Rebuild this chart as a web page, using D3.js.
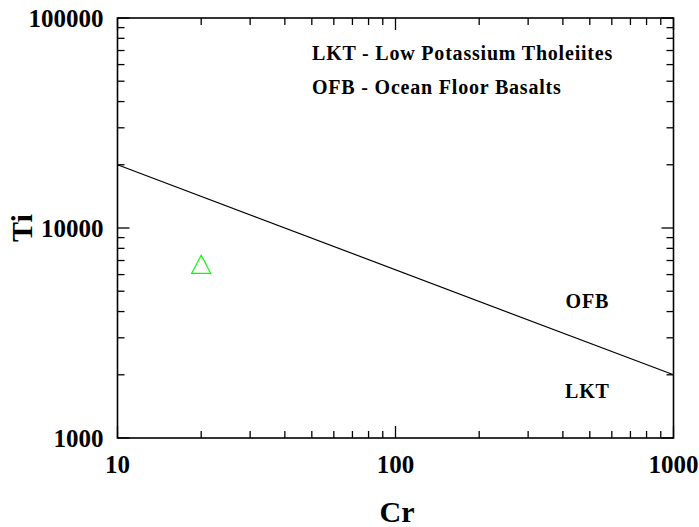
<!DOCTYPE html>
<html>
<head>
<meta charset="utf-8">
<script src="https://cdn.jsdelivr.net/npm/d3@7"></script>
<style>
  html, body { margin: 0; padding: 0; background: #fff; }
  text { font-family: "Liberation Serif", "Times New Roman", serif; font-weight: bold; fill: #000; }
</style>
</head>
<body>
<svg id="chart" width="699" height="527"></svg>
<script>
// Ti vs Cr discrimination diagram (log-log)
const xDomain = [10, 1000];
const yDomain = [1000, 100000];
const xTickLabels = [10, 100, 1000];
const yTickLabels = [1000, 10000, 100000];

// boundary line between fields
const boundaryCr = [10, 1000];
const boundaryTi = [20000, 2000];

// sample
const sampleCr = [20];
const sampleTi = [6500];

const legendLines = ["LKT - Low Potassium Tholeiites", "OFB - Ocean Floor Basalts"];
const fieldNames = ["OFB", "LKT"];
const fieldCr = [490, 490];
const fieldTi = [4500, 1670];

const svg = d3.select("#chart");
const plotL = 117.5, plotR = 673.5, plotT = 18, plotB = 438;

const x = d3.scaleLog().domain(xDomain).range([plotL, plotR]);
const y = d3.scaleLog().domain(yDomain).range([plotB, plotT]);

const minorTicks = (dom) => {
  const t = [];
  for (let d = dom[0]; d < dom[1]; d *= 10)
    for (let k = 1; k < 10; k++) t.push(d * k);
  t.push(dom[1]);
  return t;
};
const xt = minorTicks(xDomain), yt = minorTicks(yDomain);
const isMajor = v => Math.abs(Math.log10(v) - Math.round(Math.log10(v))) < 1e-9;

const g = svg.append("g");

// frame
g.append("rect").attr("x", plotL).attr("y", plotT)
  .attr("width", plotR - plotL).attr("height", plotB - plotT)
  .attr("fill", "none").attr("stroke", "#000").attr("stroke-width", 1.6);

// inward ticks on all four sides
const tickG = g.append("g").attr("stroke", "#000").attr("stroke-width", 1.3);
xt.forEach(v => {
  const len = isMajor(v) ? 12 : 7, px = x(v);
  tickG.append("line").attr("x1", px).attr("x2", px).attr("y1", plotB).attr("y2", plotB - len);
  tickG.append("line").attr("x1", px).attr("x2", px).attr("y1", plotT).attr("y2", plotT + len);
});
yt.forEach(v => {
  const len = isMajor(v) ? 12 : 7, py = y(v);
  tickG.append("line").attr("x1", plotL).attr("x2", plotL + len).attr("y1", py).attr("y2", py);
  tickG.append("line").attr("x1", plotR).attr("x2", plotR - len).attr("y1", py).attr("y2", py);
});

// tick labels
g.selectAll(".xl").data(xTickLabels).enter().append("text")
  .attr("x", d => x(d)).attr("y", 473).attr("text-anchor", "middle")
  .attr("font-size", 25).text(d => d);
g.selectAll(".yl").data(yTickLabels).enter().append("text")
  .attr("x", 103.5).attr("y", d => y(d) + 9).attr("text-anchor", "end")
  .attr("font-size", 25).text(d => d);

// axis titles
g.append("text").attr("x", 397).attr("y", 522)
  .attr("text-anchor", "middle").attr("font-size", 30).text("Cr");
g.append("text").attr("transform", "translate(32,228) rotate(-90)")
  .attr("text-anchor", "middle").attr("font-size", 30).text("Ti");

// boundary
const line = d3.line().x(d => x(d[0])).y(d => y(d[1]));
g.append("path").datum(boundaryCr.map((c, i) => [c, boundaryTi[i]]))
  .attr("d", line).attr("fill", "none").attr("stroke", "#000").attr("stroke-width", 1.2);

// sample marker: open triangle centred on its centroid
const triPath = "M0,-12L9.5,6L-9.5,6Z";
g.selectAll(".pt").data(sampleCr.map((c, i) => [c, sampleTi[i]])).enter().append("path")
  .attr("transform", d => `translate(${x(d[0])},${y(d[1])})`)
  .attr("d", triPath).attr("fill", "none").attr("stroke", "#00ff00").attr("stroke-width", 1.2);

// legend text
g.selectAll(".lg").data(legendLines).enter().append("text")
  .attr("x", 312).attr("y", (d, i) => 60 + i * 34).attr("font-size", 20)
  .attr("letter-spacing", 0.8).text(d => d);

// field names
g.selectAll(".fn").data(fieldNames).enter().append("text")
  .attr("x", (d, i) => x(fieldCr[i])).attr("y", (d, i) => y(fieldTi[i]) + 7)
  .attr("text-anchor", "middle").attr("font-size", 20)
  .attr("letter-spacing", 0.8).text(d => d);
</script>
</body>
</html>
